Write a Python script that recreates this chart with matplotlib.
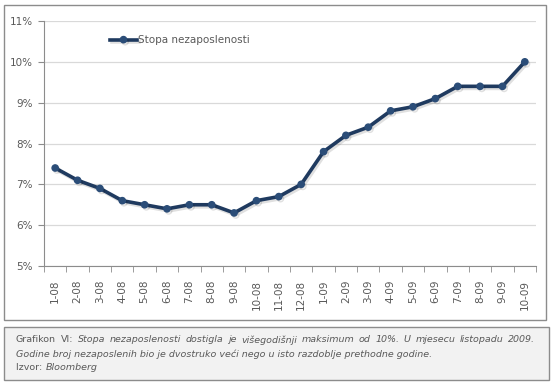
import matplotlib.pyplot as plt
import matplotlib.patheffects as pe
from matplotlib.patches import Rectangle
import numpy as np

# podaci
mjeseci = ['1-08', '2-08', '3-08', '4-08', '5-08', '6-08', '7-08', '8-08', '9-08', '10-08',
           '11-08', '12-08', '1-09', '2-09', '3-09', '4-09', '5-09', '6-09', '7-09', '8-09',
           '9-09', '10-09']
stopa = [7.4, 7.1, 6.9, 6.6, 6.5, 6.4, 6.5, 6.5, 6.3, 6.6,
         6.7, 7.0, 7.8, 8.2, 8.4, 8.8, 8.9, 9.1, 9.4, 9.4,
         9.4, 10.0]
y_ticks = [5, 6, 7, 8, 9, 10, 11]

siva = '#595959'
linija = '#1f3a5f'
marker = '#2b4d78'

plt.rcParams['font.family'] = 'DejaVu Sans'
fig = plt.figure(figsize=(5.51, 3.85), dpi=100)
W, H = 551, 385

# pozadina: okvir grafikona i okvir s opisom (u pikselima)
bg = fig.add_axes([0, 0, 1, 1], zorder=-1)
bg.set_xlim(0, W)
bg.set_ylim(H, 0)
bg.axis('off')
bg.add_patch(Rectangle((4, 5), 542, 315, facecolor='white', edgecolor='#8c8c8c', lw=1.0))
bg.add_patch(Rectangle((4, 327), 545, 53, facecolor='#f2f2f2', edgecolor='#8c8c8c', lw=1.0))

ax = fig.add_axes([44 / W, 1 - 266 / H, 492 / W, 245 / H], zorder=1)
ax.set_facecolor('none')

x = np.arange(len(mjeseci))
ax.plot(x, stopa, color=linija, lw=2.6, marker='o', markersize=4.5,
        markerfacecolor=marker, markeredgecolor=marker, label='Stopa nezaposlenosti',
        path_effects=[pe.SimpleLineShadow(offset=(1.2, -1.5), shadow_color='#000000', alpha=0.12),
                      pe.Normal()], zorder=3)

ax.set_xlim(-0.5, len(mjeseci) - 0.5)
ax.set_ylim(5, 11)
ax.set_yticks(y_ticks)
ax.set_yticklabels([f'{v}%' for v in y_ticks])
ax.set_xticks(x)
ax.set_xticklabels(mjeseci, rotation=90)
ax.set_xticks(np.arange(-0.5, len(mjeseci)), minor=True)

ax.grid(axis='y', color='#d9d9d9', lw=0.9)
ax.set_axisbelow(True)
for s in ['top', 'right']:
    ax.spines[s].set_visible(False)
ax.spines['left'].set_color('#8c8c8c')
ax.spines['bottom'].set_color('#8c8c8c')

ax.tick_params(axis='y', colors='#8c8c8c', labelcolor=siva, labelsize=7.5, length=4, pad=4)
ax.tick_params(axis='x', which='major', length=0, labelcolor=siva, labelsize=7.5, pad=10)
ax.tick_params(axis='x', which='minor', colors='#8c8c8c', length=4)

ax.legend(loc='upper left', bbox_to_anchor=(0.115, 0.98), frameon=False, fontsize=7.5,
          handlelength=2.6, handletextpad=0.1, labelcolor=siva)

# opis grafikona; prvi red je poravnat s obje strane
fs = 6.8
renderer = fig.canvas.get_renderer()
rijeci = [('Grafikon', 'normal'), ('VI:', 'normal')] + \
         [(w, 'italic') for w in 'Stopa nezaposlenosti dostigla je višegodišnji maksimum od 10%. U mjesecu listopadu 2009.'.split()]
tekstovi = [bg.text(0, 340, w, fontsize=fs, color=siva, va='center', style=st) for w, st in rijeci]
sirine = [t.get_window_extent(renderer).width for t in tekstovi]
razmak = (535 - 16 - sum(sirine)) / (len(tekstovi) - 1)
xpos = 16
for t, s in zip(tekstovi, sirine):
    t.set_x(xpos)
    xpos += s + razmak

bg.text(16, 354, 'Godine broj nezaposlenih bio je dvostruko veći nego u isto razdoblje prethodne godine.',
        fontsize=fs, color=siva, va='center', style='italic')
t3 = bg.text(16, 368, 'Izvor: ', fontsize=fs, color=siva, va='center')
bg.annotate('Bloomberg', xy=(1, 0), xycoords=t3, va='bottom', fontsize=fs, color=siva,
            style='italic', annotation_clip=False)

fig.savefig('out.png', dpi=100)
